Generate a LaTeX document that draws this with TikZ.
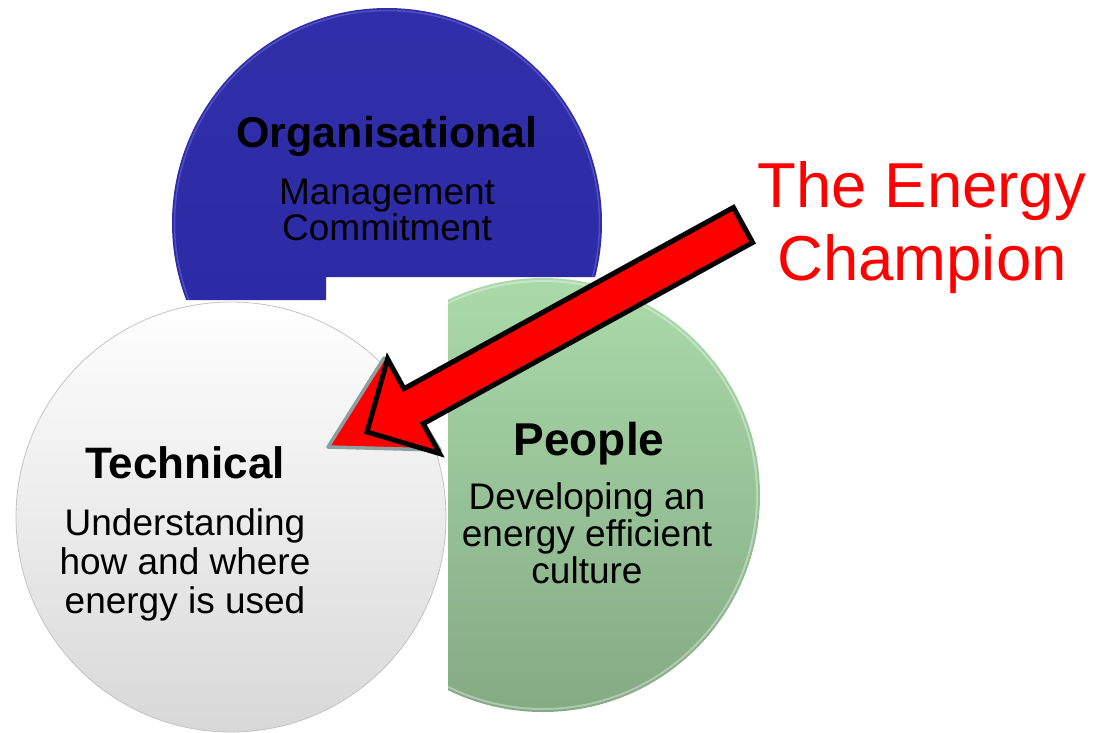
\documentclass[tikz,border=0pt]{standalone}
\usepackage{fontspec}
\setmainfont{Liberation Sans}
\definecolor{orgblue}{RGB}{42,40,165}
\definecolor{orgrim}{RGB}{120,120,230}
\definecolor{pgtop}{RGB}{170,218,170}
\definecolor{pgbot}{RGB}{132,170,132}
\definecolor{techbot}{RGB}{216,216,216}
\definecolor{techline}{RGB}{195,195,195}
\definecolor{headgray}{RGB}{140,160,162}
\definecolor{champred}{RGB}{255,0,0}
\begin{document}
\begin{tikzpicture}[x=1pt,y=-1pt,
  title/.style={font=\bfseries\fontsize{#1}{#1}\selectfont, inner sep=0pt, anchor=base},
  body/.style={font=\fontsize{37}{#1}\selectfont, align=center, inner sep=0pt, anchor=base},
  blockarrow/.style={fill=champred, draw=black, line width=5pt, line join=miter},
  shadowhead/.style={fill=champred, draw=headgray, line width=3.5pt, line join=round}]
\useasboundingbox (0,0) rectangle (1095,732);
% Organisational circle (cut at the bottom)
\begin{scope}
  \clip (0,0) -- (1095,0) -- (1095,277) -- (326,277) -- (326,300) -- (0,300) -- cycle;
  \shade[top color=orgblue!97!white, bottom color=orgblue] (387,223) circle (215pt);
  \draw[orgrim, line width=1.5pt, opacity=0.45] (387,223) circle (212.5pt);
\end{scope}
% People circle (cut on the left)
\begin{scope}
  \clip (448,0) rectangle (1095,732);
  \shade[top color=pgtop, bottom color=pgbot] (543,495) circle (217pt);
  \draw[white, line width=2pt, opacity=0.35] (543,495) circle (214pt);
\end{scope}
% Technical circle
\shade[top color=white, bottom color=techbot] (231,517) circle (215pt);
\draw[techline, line width=0.8pt] (231,517) circle (215pt);
% arrow
\coordinate (tl1) at (733.4,207.5);
\coordinate (tl2) at (752.6,242.5);
\coordinate (j2) at (423.2,423.7);
\coordinate (b2) at (439.6,453.5);
\coordinate (tip) at (367,432);
\coordinate (b1) at (387.6,358.9);
\coordinate (j1) at (404,388.7);
\coordinate (s1) at (328,447);
\coordinate (s2) at (384,358);
\coordinate (s3) at (440,450);
\path[shadowhead] (s1) -- (s2) -- (s3) -- cycle;
\path[blockarrow] (tl1) -- (tl2) -- (j2) -- (b2) -- (tip) -- (b1) -- (j1) -- cycle;
% texts (multi-line nodes are anchored at the baseline of their last line)
\node[title=43] (orgT) at (387,147) {Organisational};
\node[body=36] (orgB) at (387,240) {Management\\Commitment};
\node[title=44] (techT) at (185,478) {Technical};
\node[body=39] (techB) at (185,613) {Understanding\\how and where\\energy is used};
\node[title=46] (peopT) at (589,455) {People};
\node[body=37] (peopB) at (587,583) {Developing an\\energy efficient\\culture};
\node[font=\fontsize{63.5}{73}\selectfont, text=champred, align=center, inner sep=0pt, anchor=base] (champ) at (922,280) {The Energy\\Champion};
\end{tikzpicture}
\end{document}
